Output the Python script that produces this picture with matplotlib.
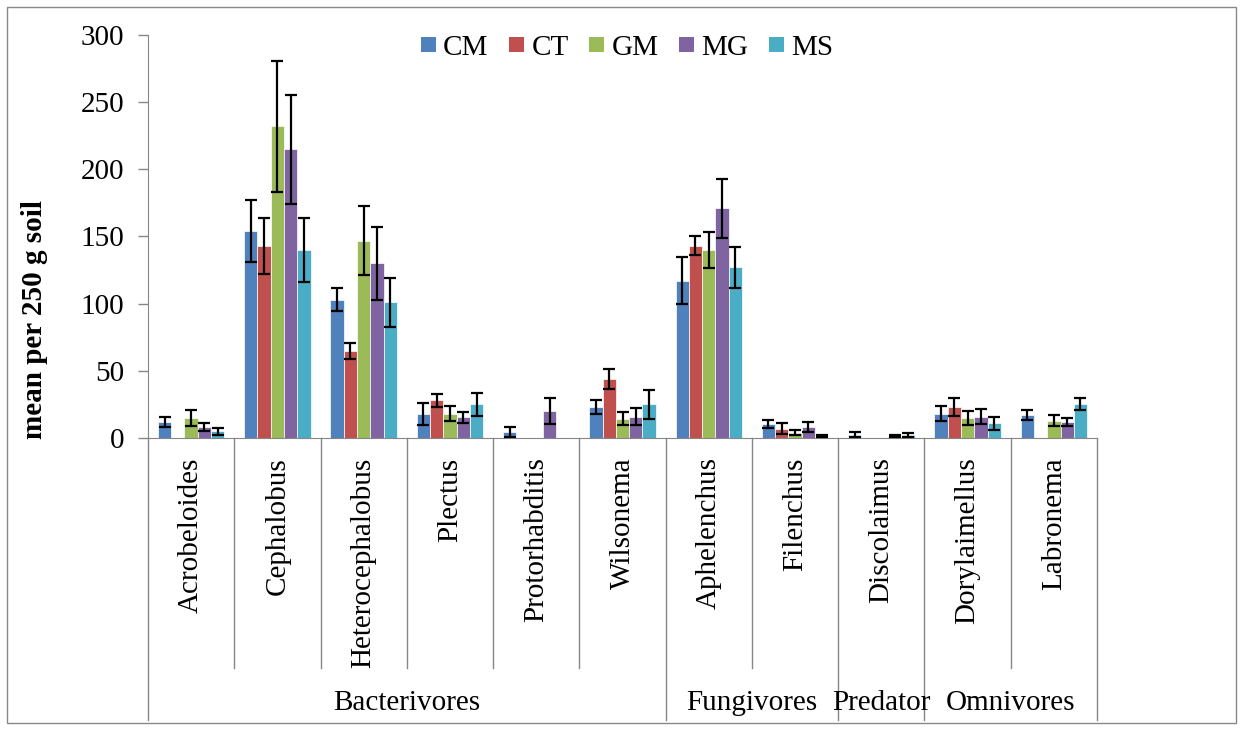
import numpy as np
import matplotlib.pyplot as plt
from matplotlib.patches import Rectangle

plt.rcParams['font.family'] = ['Liberation Serif', 'DejaVu Serif']

# data
genera = ['Acrobeloides', 'Cephalobus', 'Heterocephalobus', 'Plectus', 'Protorhabditis',
          'Wilsonema', 'Aphelenchus', 'Filenchus', 'Discolaimus', 'Dorylaimellus', 'Labronema']
groups = ['Bacterivores', 'Fungivores', 'Predator', 'Omnivores']
group_sizes = [6, 2, 1, 2]

series = ['CM', 'CT', 'GM', 'MG', 'MS']
CM = [12, 154, 103, 18, 4.5, 23, 117, 10.5, 2.5, 18, 17]
CT = [0, 143, 65, 28, 0, 44, 143, 7, 0, 23, 0]
GM = [15, 232, 147, 18, 0, 14.5, 140, 4, 0, 15, 13]
MG = [8, 215, 130, 15.5, 20, 16, 171, 8, 1.5, 16, 12]
MS = [5, 140, 101, 25, 0, 25, 127, 1.5, 2.5, 11, 25.5]
CM_err = [3.5, 23, 8.5, 8, 4, 5, 17.5, 3, 2, 5.5, 3.5]
CT_err = [0, 21, 6, 5, 0, 7.5, 7, 4, 0, 6.5, 0]
GM_err = [6, 49, 25.5, 5.5, 0, 4.5, 13.5, 1.7, 0, 5, 4]
MG_err = [3, 40.5, 27, 4, 9.5, 6, 22, 3.7, 1, 5.5, 3]
MS_err = [2.5, 24, 18, 8.5, 0, 11, 15.5, 1, 1.5, 5, 4.5]

values = [CM, CT, GM, MG, MS]
errors = [CM_err, CT_err, GM_err, MG_err, MS_err]
colors = ['#4F81BD', '#C0504D', '#9BBB59', '#8064A2', '#4BACC6']

fig = plt.figure(figsize=(12.42, 7.30), dpi=100)
ax = fig.add_axes([148 / 1242, 1 - 438 / 730, 949 / 1242, 403 / 730])

x = np.arange(len(genera))
w = 0.154
for k in range(len(series)):
    v = np.array(values[k], dtype=float)
    e = np.array(errors[k], dtype=float)
    xs = x + (k - 2) * w
    ax.bar(xs, v, w, color=colors[k], edgecolor='white', linewidth=0.5, zorder=2)
    m = v > 0
    ax.errorbar(xs[m], v[m], yerr=e[m], fmt='none', ecolor='black', elinewidth=1.6,
                capsize=4, capthick=1.6, zorder=3)

ax.set_xlim(-0.5, len(genera) - 0.5)
ax.set_ylim(0, 300)
ax.set_yticks(np.arange(0, 301, 50))
ax.tick_params(axis='y', labelsize=21, length=7, width=1, color='#868686', pad=10)
ax.set_xticks(x)
ax.set_xticklabels(genera, rotation=90, fontsize=21)
ax.tick_params(axis='x', length=0, pad=14)
for s in ['top', 'right']:
    ax.spines[s].set_visible(False)
for s in ['left', 'bottom']:
    ax.spines[s].set_color('#868686')

ax.set_ylabel('mean per 250 g soil', fontsize=21, fontweight='bold', va='center')
ax.yaxis.set_label_coords(-0.12, 0.295)

# separators under the axis
tr = ax.get_xaxis_transform()
bounds = np.arange(len(genera) + 1) - 0.5
group_edges = np.concatenate([[0], np.cumsum(group_sizes)]) - 0.5
for b in bounds:
    bottom = -0.70 if np.any(np.isclose(group_edges, b)) else -0.571
    ax.plot([b, b], [0, bottom], transform=tr, color='#868686', lw=1, clip_on=False)
for i, g in enumerate(groups):
    c = (group_edges[i] + group_edges[i + 1]) / 2
    ax.text(c, -0.658, g, transform=tr, ha='center', va='center', fontsize=21)

handles = [Rectangle((0, 0), 1, 1, facecolor=c, edgecolor='none') for c in colors]
ax.legend(handles, series, loc='center', bbox_to_anchor=(627 / 1242, 1 - 48 / 730),
          bbox_transform=fig.transFigure, ncol=5, frameon=False, fontsize=21,
          handlelength=0.52, handleheight=0.42, handletextpad=0.25, columnspacing=0.7)

fig.patches.append(Rectangle((7 / 1242, 7 / 730), 1229 / 1242, 716 / 730, transform=fig.transFigure,
                             fill=False, edgecolor='#888888', lw=1))

fig.savefig('out.png', dpi=100)
